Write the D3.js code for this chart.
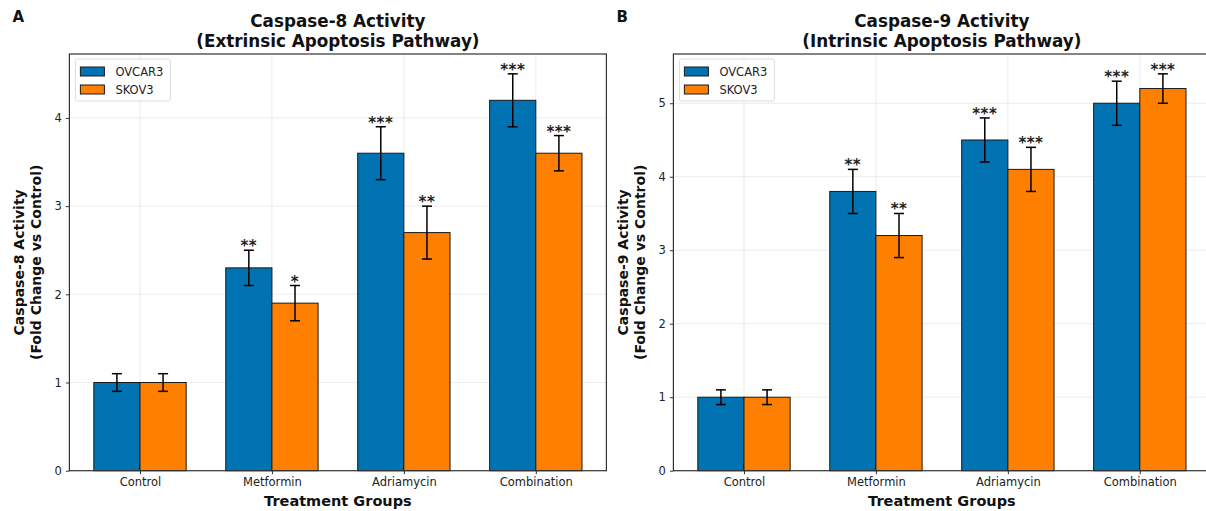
<!DOCTYPE html>
<html>
<head>
<meta charset="utf-8">
<script src="https://cdn.jsdelivr.net/npm/d3@7"></script>
<style>
  body { margin: 0; background: #fff; }
  svg { display: block; font-family: "DejaVu Sans", sans-serif; }
</style>
</head>
<body>
<div id="visualization"></div>
<script>
// data
const groups = ["Control", "Metformin", "Adriamycin", "Combination"];
const lines = ["OVCAR3", "SKOV3"];

const casp8_ovcar3 = [1.0, 2.3, 3.6, 4.2];
const casp8_ovcar3_err = [0.1, 0.2, 0.3, 0.3];
const casp8_skov3 = [1.0, 1.9, 2.7, 3.6];
const casp8_skov3_err = [0.1, 0.2, 0.3, 0.2];
const casp8_ovcar3_sig = ["", "**", "***", "***"];
const casp8_skov3_sig = ["", "*", "**", "***"];

const casp9_ovcar3 = [1.0, 3.8, 4.5, 5.0];
const casp9_ovcar3_err = [0.1, 0.3, 0.3, 0.3];
const casp9_skov3 = [1.0, 3.2, 4.1, 5.2];
const casp9_skov3_err = [0.1, 0.3, 0.3, 0.2];
const casp9_ovcar3_sig = ["", "**", "***", "***"];
const casp9_skov3_sig = ["", "**", "***", "***"];

const yTicks8 = [0, 1, 2, 3, 4];
const yTicks9 = [0, 1, 2, 3, 4, 5];

const color = d3.scaleOrdinal().domain(lines).range(["#0173B2", "#FF7F00"]);

const W = 1206, H = 511;
const svg = d3.select("#visualization").append("svg")
    .attr("width", W).attr("height", H);

const barW = 0.35;

function panel(opts) {
    const { left, letter, title1, title2, ylab1, ylab2, series, yTicks } = opts;
    const top = 54, plotW = 537, plotH = 416.7;

    // y max like matplotlib: 5% above the highest error bar
    const ymax = d3.max(series, s => d3.max(s.values, (v, i) => v + s.err[i])) * 1.05;

    const x = d3.scaleLinear().domain([-0.535, 3.535]).range([left, left + plotW]);
    const y = d3.scaleLinear().domain([0, ymax]).range([top + plotH, top]);

    const g = svg.append("g");

    // grid
    g.append("g").selectAll("line.gy").data(yTicks).join("line")
        .attr("x1", left).attr("x2", left + plotW)
        .attr("y1", d => y(d)).attr("y2", d => y(d))
        .attr("stroke", "#b0b0b0").attr("stroke-opacity", 0.3).attr("stroke-width", 0.8);
    g.append("g").selectAll("line.gx").data(groups).join("line")
        .attr("x1", (d, i) => x(i)).attr("x2", (d, i) => x(i))
        .attr("y1", top).attr("y2", top + plotH)
        .attr("stroke", "#b0b0b0").attr("stroke-opacity", 0.3).attr("stroke-width", 0.8);

    // bars + error bars
    series.forEach((s, si) => {
        const off = si === 0 ? -barW / 2 : barW / 2;
        const rows = s.values.map((v, i) => ({ i, v, e: s.err[i], sig: s.sig[i] }));
        const sg = g.append("g");
        sg.selectAll("rect").data(rows).join("rect")
            .attr("x", d => x(d.i + off - barW / 2))
            .attr("y", d => y(d.v))
            .attr("width", x(barW) - x(0))
            .attr("height", d => y(0) - y(d.v))
            .attr("fill", color(s.name))
            .attr("stroke", "#1a1a1a").attr("stroke-width", 1);

        const eg = sg.selectAll("g.err").data(rows).join("g")
            .attr("stroke", "#000").attr("stroke-width", 1.5);
        eg.append("line")
            .attr("x1", d => x(d.i + off)).attr("x2", d => x(d.i + off))
            .attr("y1", d => y(d.v - d.e)).attr("y2", d => y(d.v + d.e));
        [-1, 1].forEach(k => {
            eg.append("line")
                .attr("x1", d => x(d.i + off) - 5).attr("x2", d => x(d.i + off) + 5)
                .attr("y1", d => y(d.v + k * d.e)).attr("y2", d => y(d.v + k * d.e));
        });

        sg.selectAll("text").data(rows).join("text")
            .attr("x", d => x(d.i + off))
            .attr("y", d => y(d.v + d.e) + 1)
            .attr("text-anchor", "middle")
            .attr("font-size", 15).attr("font-weight", "bold")
            .attr("letter-spacing", 0.5)
            .attr("fill", "#222")
            .text(d => d.sig);
    });

    // axes
    const ax = g.append("g").attr("transform", `translate(0,${top + plotH})`)
        .call(d3.axisBottom(x).tickValues(d3.range(groups.length)).tickFormat(i => groups[i]).tickSize(3.5).tickPadding(4));
    const ay = g.append("g").attr("transform", `translate(${left},0)`)
        .call(d3.axisLeft(y).tickValues(yTicks).tickFormat(d3.format("d")).tickSize(3.5).tickPadding(4));
    [ax, ay].forEach(a => {
        a.select(".domain").remove();
        a.selectAll("text").attr("font-size", 11.5).attr("fill", "#222").attr("font-family", "DejaVu Sans");
        a.selectAll("line").attr("stroke", "#333");
    });

    // frame
    g.append("rect")
        .attr("x", left).attr("y", top).attr("width", plotW).attr("height", plotH)
        .attr("fill", "none").attr("stroke", "#333").attr("stroke-width", 1.2);

    // titles
    const cx = left + plotW / 2;
    const t = g.append("text").attr("text-anchor", "middle")
        .attr("font-size", 16.8).attr("font-weight", "bold").attr("fill", "#111");
    t.append("tspan").attr("x", cx).attr("y", 27).text(title1);
    t.append("tspan").attr("x", cx).attr("y", 47).text(title2);

    g.append("text").attr("x", left - 57).attr("y", 22)
        .attr("font-size", 15).attr("font-weight", "bold").attr("fill", "#111")
        .text(letter);

    g.append("text").attr("x", cx).attr("y", 506)
        .attr("text-anchor", "middle").attr("font-size", 14.5).attr("font-weight", "bold").attr("fill", "#111")
        .text("Treatment Groups");

    const cy = top + plotH / 2;
    const yl = g.append("text").attr("text-anchor", "middle")
        .attr("transform", `translate(${left - 37},${cy}) rotate(-90)`)
        .attr("font-size", 14).attr("font-weight", "bold").attr("fill", "#111");
    yl.append("tspan").attr("x", 0).attr("y", -8).text(ylab1);
    yl.append("tspan").attr("x", 0).attr("y", 9).text(ylab2);

    // legend
    const lg = g.append("g").attr("transform", `translate(${left + 6},${top + 5})`);
    lg.append("rect").attr("width", 95).attr("height", 42).attr("rx", 2)
        .attr("fill", "#fff").attr("fill-opacity", 0.8).attr("stroke", "#ddd");
    lines.forEach((n, i) => {
        lg.append("rect").attr("x", 5).attr("y", 8 + i * 18).attr("width", 24).attr("height", 9)
            .attr("fill", color(n)).attr("stroke", "#1a1a1a").attr("stroke-width", 1);
        lg.append("text").attr("x", 40).attr("y", 17 + i * 18)
            .attr("font-size", 11.5).attr("fill", "#222").text(n);
    });
}

panel({
    left: 69.4, letter: "A",
    title1: "Caspase-8 Activity", title2: "(Extrinsic Apoptosis Pathway)",
    ylab1: "Caspase-8 Activity", ylab2: "(Fold Change vs Control)",
    yTicks: yTicks8,
    series: [
        { name: "OVCAR3", values: casp8_ovcar3, err: casp8_ovcar3_err, sig: casp8_ovcar3_sig },
        { name: "SKOV3", values: casp8_skov3, err: casp8_skov3_err, sig: casp8_skov3_sig }
    ]
});

panel({
    left: 673.4, letter: "B",
    title1: "Caspase-9 Activity", title2: "(Intrinsic Apoptosis Pathway)",
    ylab1: "Caspase-9 Activity", ylab2: "(Fold Change vs Control)",
    yTicks: yTicks9,
    series: [
        { name: "OVCAR3", values: casp9_ovcar3, err: casp9_ovcar3_err, sig: casp9_ovcar3_sig },
        { name: "SKOV3", values: casp9_skov3, err: casp9_skov3_err, sig: casp9_skov3_sig }
    ]
});
</script>
</body>
</html>
